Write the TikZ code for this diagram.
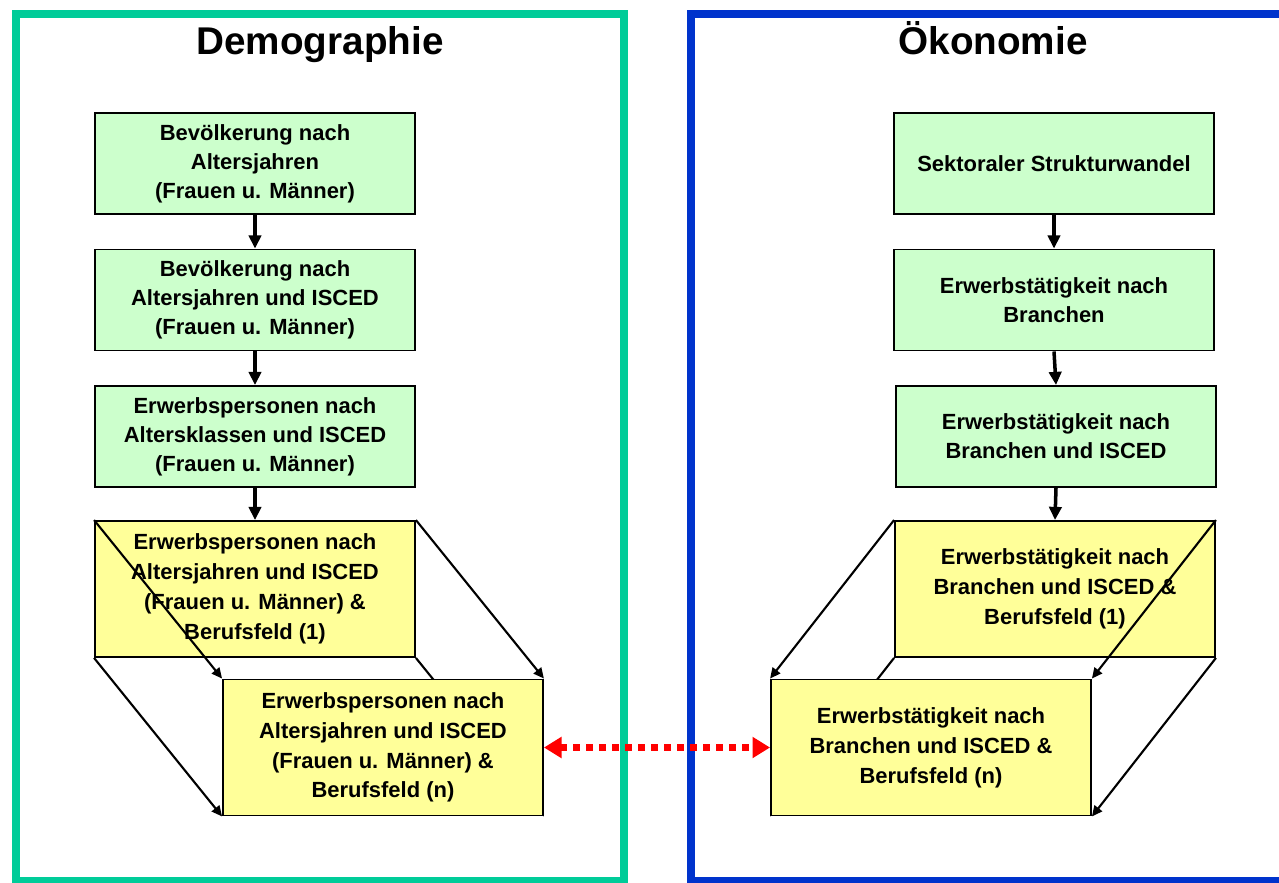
\documentclass[tikz,border=0pt]{standalone}
\usepackage{fontspec}
\setmainfont{Liberation Sans}
\usetikzlibrary{
    arrows.meta,
    positioning,
    backgrounds
}
\definecolor{demoteal}{RGB}{0, 204, 153}
\definecolor{oekoblue}{RGB}{0, 51, 204}
\definecolor{stepgreen}{RGB}{204, 255, 204}
\definecolor{stackyellow}{RGB}{255, 255, 153}

\begin{document}
\begin{tikzpicture}[
        x=0.02cm, y=-0.02cm,
        box/.style={rectangle, draw, line width=1.1pt, fill=stepgreen, minimum width=6.4cm, minimum height=2.02cm, inner sep=0pt, align=center, font=\bfseries\fontsize{12.5}{16.5}\selectfont},
        stack/.style={box, fill=stackyellow, minimum height=2.72cm, font=\bfseries\fontsize{12.5}{17}\selectfont},
        panel/.style={line width=4.5pt},
        heading/.style={anchor=base, font=\bfseries\fontsize{22}{26}\selectfont},
        arrow/.style={-{Triangle[length=7.5pt, width=7pt]}, line width=2pt},
        spread/.style={-{Triangle[length=6pt, width=5.5pt]}, line width=1.2pt},
        match/.style={{Triangle[length=10pt, width=11.5pt]}-{Triangle[length=10pt, width=11.5pt]}, red, line width=4pt, dash pattern=on 3.8pt off 3.6pt}
    ]
        \useasboundingbox (0,0) rectangle (1279,883);

        % Frames
        \draw[panel, draw=demoteal] (16,14) rectangle (624,881);
        \draw[panel, draw=oekoblue] (1290,14) -- (691,14) -- (691,881) -- (1290,881);
        \node[heading] (demo) at (320,54) {Demographie};
        \node[heading] (oeko) at (993,54) {Ökonomie};

        % Demographie
        \node[box] (bev1) at (255,163.5) {Bevölkerung nach\\Altersjahren\\(Frauen u. Männer)};
        \node[box] (bev2) at (255,300) {Bevölkerung nach\\Altersjahren und ISCED\\(Frauen u. Männer)};
        \node[box] (ep0) at (255,436.5) {Erwerbspersonen nach\\Altersklassen und ISCED\\(Frauen u. Männer)};
        \node[stack] (epn) at (383,747.5) {Erwerbspersonen nach\\Altersjahren und ISCED\\(Frauen u. Männer) \&\\Berufsfeld (n)};
        \begin{scope}[on background layer]
            \node[stack] (ep1) at (255,589) {Erwerbspersonen nach\\Altersjahren und ISCED\\(Frauen u. Männer) \&\\Berufsfeld (1)};
            \draw[spread] (ep1.north west) -- (epn.north west);
            \draw[spread] (ep1.south west) -- (epn.south west);
            \draw[spread] (ep1.north east) -- (epn.north east);
            \draw[spread] (ep1.south east) -- (epn.south east);
        \end{scope}

        % Oekonomie
        \node[box] (sek) at (1054,163.5) {Sektoraler Strukturwandel};
        \node[box] (erw1) at (1054,300) {Erwerbstätigkeit nach\\Branchen};
        \node[box] (erw2) at (1056,436.5) {Erwerbstätigkeit nach\\Branchen und ISCED};
        \node[stack] (erwn) at (931,747.5) {Erwerbstätigkeit nach\\Branchen und ISCED \&\\Berufsfeld (n)};
        \begin{scope}[on background layer]
            \node[stack] (erw3) at (1055,589) {Erwerbstätigkeit nach\\Branchen und ISCED \&\\Berufsfeld (1)};
            \draw[spread] (erw3.north west) -- (erwn.north west);
            \draw[spread] (erw3.south west) -- (erwn.south west);
            \draw[spread] (erw3.north east) -- (erwn.north east);
            \draw[spread] (erw3.south east) -- (erwn.south east);
        \end{scope}

        % Arrows
        \draw[arrow] (bev1) -- (bev2);
        \draw[arrow] (bev2) -- (ep0);
        \draw[arrow] (ep0) -- (ep1);
        \draw[arrow] (sek) -- (erw1);
        \draw[arrow] (erw1.south) -- (erw2.north);
        \draw[arrow] (erw2.south) -- (erw3.north);
        \draw[match] (epn) -- (erwn);
    \end{tikzpicture}
\end{document}
